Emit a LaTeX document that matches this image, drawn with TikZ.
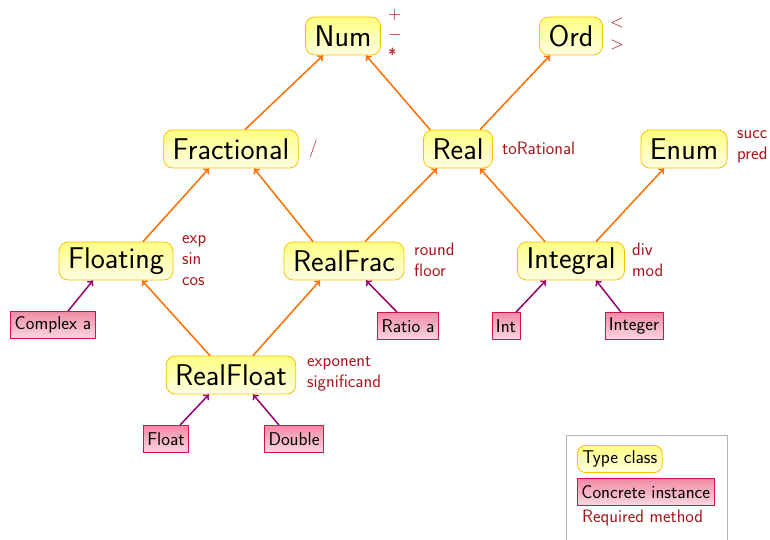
\documentclass[tikz,border=0pt]{standalone}
\usepackage{tikz}
\usetikzlibrary{arrows.meta}
\definecolor{clsborder}{RGB}{250,190,0}
\definecolor{clstop}{RGB}{255,255,130}
\definecolor{clsbot}{RGB}{255,255,228}
\definecolor{insborder}{RGB}{205,20,80}
\definecolor{instop}{RGB}{240,140,165}
\definecolor{insbot}{RGB}{252,215,225}
\definecolor{methcol}{RGB}{165,20,25}
\definecolor{isaorange}{RGB}{255,110,0}
\definecolor{inspurple}{RGB}{150,0,115}
\begin{document}
\begin{tikzpicture}[x=1pt,y=-1pt,
  font=\sffamily,
  cls/.style={draw=clsborder, line width=0.8pt, rounded corners=9pt,
    top color=clstop, bottom color=clsbot, font=\sffamily\fontsize{30}{33}\selectfont,
    minimum height=38pt, inner xsep=9pt, inner ysep=0pt},
  ins/.style={draw=insborder, line width=0.8pt,
    top color=instop, bottom color=insbot, font=\sffamily\fontsize{18.5}{21}\selectfont,
    minimum height=27pt, inner xsep=4pt, inner ysep=0pt},
  meth/.style={text=methcol, font=\sffamily\fontsize{18}{21}\selectfont, align=left, anchor=west, inner sep=0pt},
  isa/.style={draw=isaorange, line width=1.5pt, -{To[length=5pt,width=8pt]}},
  inst/.style={draw=inspurple, line width=1.5pt, -{To[length=5pt,width=8pt]}}
]
\useasboundingbox (0,0) rectangle (770,540);
% type classes
\node[cls] (num) at (343,36) {Num};
\node[cls] (ord) at (571,36) {Ord};
\node[cls] (frac) at (231,149) {Fractional};
\node[cls] (real) at (458,149) {Real};
\node[cls] (enum) at (684,149) {Enum};
\node[cls] (flo) at (116,261) {Floating};
\node[cls] (rfrac) at (344,261) {RealFrac};
\node[cls] (integ) at (571,261) {Integral};
\node[cls] (rflo) at (231,375) {RealFloat};
% instances
\node[ins] (cplx) at (53,325) {Complex a};
\node[ins] (ratio) at (408,326) {Ratio a};
\node[ins] (int) at (506,326) {Int};
\node[ins] (integer) at (634,326) {Integer};
\node[ins] (float) at (166,439) {Float};
\node[ins] (double) at (294,439) {Double};
% methods
\node[meth] (mnum) at (388,35) {+\\[-1pt]$-$\\[1pt]*};
\node[meth] (mord) at (610,34) {<\\[1pt]>};
\node[meth] (mfrac) at (309,149) {/};
\node[meth] (mreal) at (502,148) {toRational};
\node[meth] (menum) at (737,147) {succ\\pred};
\node[meth] (mflo) at (182,261) {exp\\sin\\cos};
\node[meth] (mrfrac) at (414,260) {round\\floor};
\node[meth] (minteg) at (632,260) {div\\mod};
\node[meth] (mrflo) at (307,374) {exponent\\significand};
% hierarchy
\draw[isa] ([xshift=14pt]frac.north) -- ([xshift=-20pt]num.south);
\draw[isa] ([xshift=-28pt]real.north) -- ([xshift=23pt]num.south);
\draw[isa] ([xshift=22pt]real.north) -- ([xshift=-21pt]ord.south);
\draw[isa] ([xshift=27pt]flo.north) -- ([xshift=-22pt]frac.south);
\draw[isa] ([xshift=-31pt]rfrac.north) -- ([xshift=23pt]frac.south);
\draw[isa] ([xshift=21pt]rfrac.north) -- ([xshift=-21pt]real.south);
\draw[isa] ([xshift=-26pt]integ.north) -- ([xshift=22pt]real.south);
\draw[isa] ([xshift=25pt]integ.north) -- ([xshift=-20pt]enum.south);
\draw[isa] ([xshift=-21pt]rflo.north) -- ([xshift=26pt]flo.south);
\draw[isa] ([xshift=22pt]rflo.north) -- ([xshift=-24pt]rfrac.south);
% instances
\draw[inst] ([xshift=15pt]cplx.north) -- ([xshift=-23pt]flo.south);
\draw[inst] ([xshift=-11pt]ratio.north) -- ([xshift=22pt]rfrac.south);
\draw[inst] ([xshift=10pt]int.north) -- ([xshift=-25pt]integ.south);
\draw[inst] ([xshift=-13pt]integer.north) -- ([xshift=25pt]integ.south);
\draw[inst] ([xshift=14pt]float.north) -- ([xshift=-22pt]rflo.south);
\draw[inst] ([xshift=-15pt]double.north) -- ([xshift=22pt]rflo.south);
% legend
\node[draw=black!30, line width=0.8pt, minimum width=161pt, minimum height=110pt, anchor=north west, inner sep=0pt] (legend) at (566,435) {};
\node[cls, font=\sffamily\fontsize{18.5}{21}\selectfont, minimum height=27pt, inner xsep=5pt, rounded corners=8pt, anchor=west] (lcls) at (577,459) {Type class};
\node[ins, anchor=west] (lins) at (577,492) {Concrete instance};
\node[meth] (lmeth) at (582,518) {Required method};
\end{tikzpicture}
\end{document}
